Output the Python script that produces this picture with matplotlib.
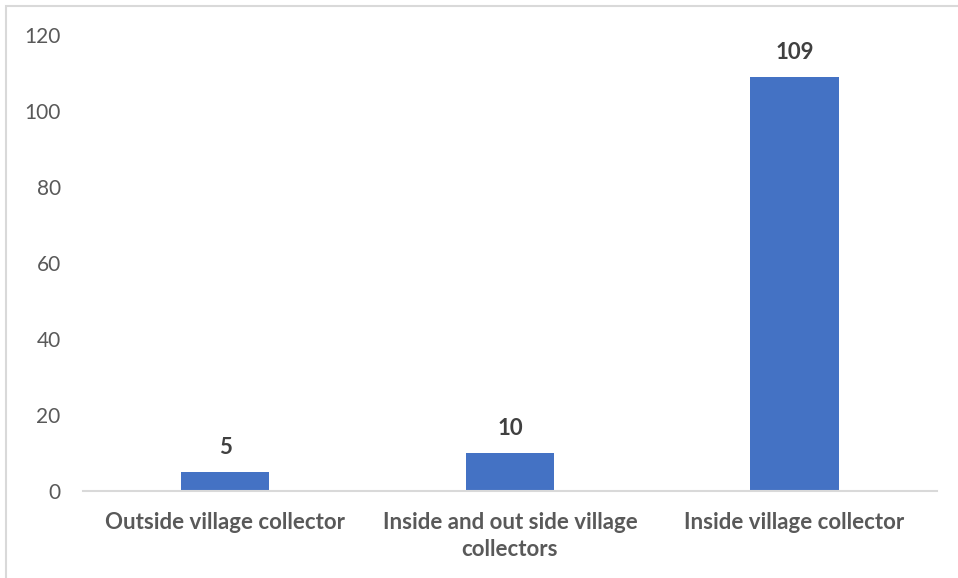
import matplotlib

matplotlib.use("Agg")
import matplotlib.pyplot as plt
from matplotlib.patches import Rectangle

categories = ["Outside village collector",
              "Inside and out side village\ncollectors",
              "Inside village collector"]
values = [5, 10, 109]
yticks = [0, 20, 40, 60, 80, 100, 120]

plt.rcParams["font.family"] = ["Lato", "DejaVu Sans"]

fig = plt.figure(figsize=(9.58, 5.78), dpi=100)
ax = fig.add_axes([0.0866, 0.1505, 0.8914, 0.7889])

x = range(len(categories))
bars = ax.bar(x, values, width=0.31, color="#4472C4", zorder=2)
for b, v in zip(bars, values):
    ax.annotate(str(v), (b.get_x() + b.get_width() / 2, v),
                xytext=(0, 10), textcoords="offset points",
                ha="center", va="bottom", fontsize=16, fontweight="bold",
                color="#404040")

ax.set_xlim(-0.5, len(categories) - 0.5)
ax.set_ylim(0, 120)
ax.set_yticks(yticks)
ax.set_xticks(list(x))
ax.set_xticklabels(categories, fontsize=16, fontweight="bold", color="#595959",
                   linespacing=1.35)
ax.tick_params(axis="y", length=0, pad=16, labelsize=15, labelcolor="#595959")
ax.tick_params(axis="x", length=0, pad=15)
for side in ("top", "right", "left"):
    ax.spines[side].set_visible(False)
ax.spines["bottom"].set_color("#D9D9D9")
ax.spines["bottom"].set_linewidth(1.5)

# chart area border (cut off at right and bottom in the original)
fig.patches.append(Rectangle((6 / 958, -0.05), 1.2, 1.05 - 6 / 578,
                             transform=fig.transFigure, fill=False,
                             edgecolor="#D9D9D9", linewidth=1.5))

fig.savefig("out.png", dpi=100)
